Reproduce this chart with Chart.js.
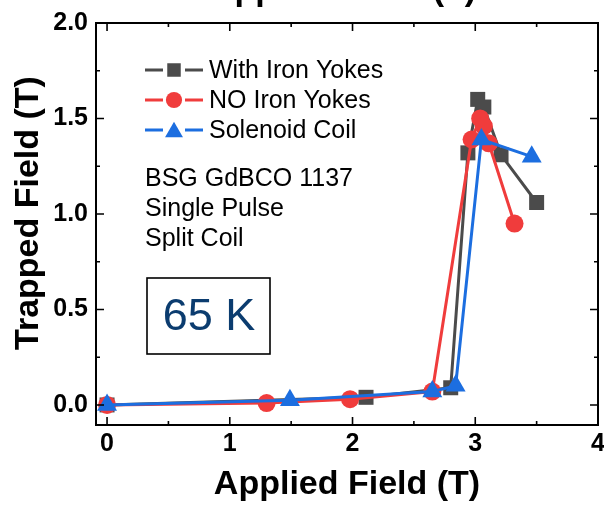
<!DOCTYPE html>
<html>
<head>
<meta charset="utf-8">
<script src="https://cdn.jsdelivr.net/npm/chart.js@4.4.1/dist/chart.umd.min.js"></script>
<style>
  html, body { margin: 0; padding: 0; background: #fff; }
  #wrap { width: 604px; height: 509px; }
</style>
</head>
<body>
<div id="wrap"><canvas id="chart" width="604" height="509"></canvas></div>
<script>
// Trapped field vs applied field at 65 K, three magnetising setups
const withYokesX = [0, 2.11, 2.80, 2.94, 3.02, 3.07, 3.21, 3.50];
const withYokesY = [0, 0.04, 0.09, 1.32, 1.60, 1.56, 1.31, 1.06];
const noYokesX   = [0, 1.30, 1.98, 2.65, 2.97, 3.04, 3.07, 3.11, 3.32];
const noYokesY   = [0, 0.01, 0.03, 0.07, 1.39, 1.50, 1.46, 1.37, 0.95];
const solenoidX  = [0, 1.49, 2.65, 2.84, 3.05, 3.46];
const solenoidY  = [0, 0.025, 0.07, 0.10, 1.39, 1.30];

const seriesNames = ['With Iron Yokes', 'NO Iron Yokes', 'Solenoid Coil'];
const xTicks = [0, 1, 2, 3, 4];
const yTicks = [0, 0.5, 1.0, 1.5, 2.0];
const noteLines = ['BSG GdBCO 1137', 'Single Pulse', 'Split Coil'];
const tempLabel = '65 K';
const xTitle = 'Applied Field (T)';
const yTitle = 'Trapped Field (T)';

const FONT = "'Liberation Sans', Arial, sans-serif";
const GRAY = '#4b4b4b';
const RED  = '#f03c3c';
const BLUE = '#1c6ee0';

const toPoints = (xs, ys) => xs.map((x, i) => ({ x, y: ys[i] }));

function series(label, xs, ys, color, style, radius, order) {
  return {
    label,
    data: toPoints(xs, ys),
    showLine: true,
    borderColor: color,
    backgroundColor: color,
    borderWidth: 3,
    pointStyle: style,
    pointRadius: radius,
    pointHoverRadius: radius,
    pointBorderWidth: 0,
    pointBackgroundColor: color,
    tension: 0,
    order,
  };
}

// ── hand-drawn legend marker, same shapes as Chart.js point styles ──
function marker(ctx, style, x, y, r, color) {
  ctx.save();
  ctx.fillStyle = color;
  ctx.beginPath();
  if (style === 'rect') {
    const s = Math.SQRT1_2 * r;
    ctx.rect(x - s, y - s, 2 * s, 2 * s);
  } else if (style === 'triangle') {
    let a = 0;
    ctx.moveTo(x + Math.sin(a) * r, y - Math.cos(a) * r);
    for (let k = 0; k < 2; k++) {
      a += Math.PI * 2 / 3;
      ctx.lineTo(x + Math.sin(a) * r, y - Math.cos(a) * r);
    }
    ctx.closePath();
  } else {
    ctx.arc(x, y, r, 0, Math.PI * 2);
  }
  ctx.fill();
  ctx.restore();
}

const framePlugin = {
  id: 'frame',
  afterDatasetsDraw(chart) {
    const { ctx, chartArea: a, scales } = chart;
    ctx.save();
    ctx.strokeStyle = '#000';
    ctx.lineWidth = 2;
    ctx.strokeRect(a.left, a.top, a.right - a.left, a.bottom - a.top);

    // inward ticks on all four sides, major + minor
    ctx.lineWidth = 1.6;
    ctx.beginPath();
    for (let v = 0; v <= 4.001; v += 0.5) {
      const px = scales.x.getPixelForValue(v);
      const len = Math.abs(v - Math.round(v)) < 1e-6 ? 8 : 4;
      ctx.moveTo(px, a.bottom); ctx.lineTo(px, a.bottom - len);
      ctx.moveTo(px, a.top);    ctx.lineTo(px, a.top + len);
    }
    for (let v = 0; v <= 2.001; v += 0.25) {
      const py = scales.y.getPixelForValue(v);
      const len = Math.abs(v * 2 - Math.round(v * 2)) < 1e-6 ? 8 : 4;
      ctx.moveTo(a.left, py);  ctx.lineTo(a.left + len, py);
      ctx.moveTo(a.right, py); ctx.lineTo(a.right - len, py);
    }
    ctx.stroke();
    ctx.restore();
  },
  afterDraw(chart) {
    const { ctx, chartArea: a } = chart;
    ctx.save();

    // legend: line - marker - line, then label
    chart.data.datasets.forEach((ds, i) => {
      const y = a.top + 47 + 30 * i;
      const x0 = a.left + 49;
      ctx.strokeStyle = ds.borderColor;
      ctx.lineWidth = 3;
      ctx.beginPath();
      ctx.moveTo(x0, y); ctx.lineTo(x0 + 18, y);
      ctx.moveTo(x0 + 40, y); ctx.lineTo(x0 + 58, y);
      ctx.stroke();
      marker(ctx, ds.pointStyle, x0 + 29, y + (ds.pointStyle === 'triangle' ? 2 : 0),
             ds.pointRadius * 0.9, ds.backgroundColor);
      ctx.fillStyle = '#000';
      ctx.font = `25px ${FONT}`;
      ctx.textBaseline = 'middle';
      ctx.textAlign = 'left';
      ctx.fillText(ds.label, x0 + 64, y + 1);
    });

    // sample notes
    ctx.font = `25px ${FONT}`;
    noteLines.forEach((t, i) => ctx.fillText(t, a.left + 49, a.top + 156 + 30 * i));

    // temperature box
    const bx = a.left + 51, by = a.top + 255;
    ctx.lineWidth = 1.6;
    ctx.strokeStyle = '#000';
    ctx.strokeRect(bx, by, 123, 76);
    ctx.fillStyle = '#0b3c6f';
    ctx.font = `45px ${FONT}`;
    ctx.textAlign = 'center';
    ctx.fillText(tempLabel, bx + 62, by + 40);

    // y axis title
    ctx.fillStyle = '#000';
    ctx.font = `bold 34px ${FONT}`;
    ctx.translate(29, 213);
    ctx.rotate(-Math.PI / 2);
    ctx.fillText(yTitle, 0, 0);
    ctx.setTransform(1, 0, 0, 1, 0, 0);

    // top axis title, clipped by the canvas edge
    ctx.textBaseline = 'alphabetic';
    ctx.fillText(xTitle, (a.left + a.right) / 2 - 4, 0);
    ctx.restore();
  },
};

new Chart(document.getElementById('chart'), {
  type: 'scatter',
  data: {
    datasets: [
      series(seriesNames[0], withYokesX, withYokesY, GRAY, 'rect', 10.6, 3),
      series(seriesNames[1], noYokesX, noYokesY, RED, 'circle', 9, 2),
      series(seriesNames[2], solenoidX, solenoidY, BLUE, 'triangle', 11.5, 1),
    ],
  },
  options: {
    responsive: false,
    animation: false,
    layout: { autoPadding: false, padding: { top: 22, right: 6, left: 0, bottom: 0 } },
    plugins: { legend: { display: false }, tooltip: { enabled: false } },
    scales: {
      x: {
        type: 'linear',
        min: -0.09,
        max: 4,
        afterBuildTicks: (s) => { s.ticks = xTicks.map((value) => ({ value })); },
        afterFit: (s) => { s.height = 84; s.paddingRight = 0; },
        grid: { display: false, drawTicks: false },
        border: { display: false },
        ticks: {
          color: '#000',
          padding: 4,
          maxRotation: 0,
          autoSkip: false,
          font: { family: FONT, size: 25, weight: 'bold' },
          callback: (v) => String(v),
        },
        title: {
          display: true,
          text: xTitle,
          color: '#000',
          font: { family: FONT, size: 34, weight: 'bold' },
          padding: { top: 0, bottom: 4 },
        },
      },
      y: {
        type: 'linear',
        min: -0.105,
        max: 2.0,
        afterBuildTicks: (s) => { s.ticks = yTicks.map((value) => ({ value })); },
        afterFit: (s) => { s.width = 96; },
        grid: { display: false, drawTicks: false },
        border: { display: false },
        ticks: {
          color: '#000',
          padding: 8,
          font: { family: FONT, size: 25, weight: 'bold' },
          callback: (v) => v.toFixed(1),
        },
      },
    },
  },
  plugins: [framePlugin],
});
</script>
</body>
</html>
